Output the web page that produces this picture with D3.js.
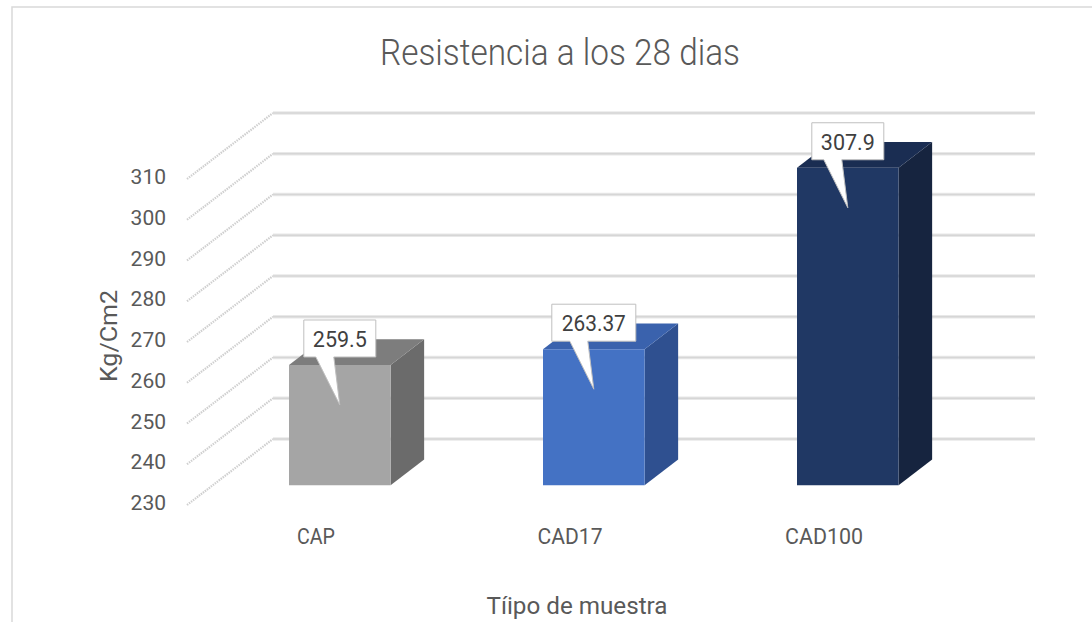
<!DOCTYPE html>
<html>
<head>
<meta charset="utf-8">
<script src="https://cdn.jsdelivr.net/npm/d3@7"></script>
<style>
  html, body { margin: 0; padding: 0; background: #ffffff; }
  svg { display: block; }
</style>
</head>
<body>
<svg id="chart" width="1092" height="622"></svg>
<script>
// ---- data ----
const categories = ["CAP", "CAD17", "CAD100"];
const values = [259.5, 263.37, 307.9];
const valueLabels = ["259.5", "263.37", "307.9"];
const yTicks = [230, 240, 250, 260, 270, 280, 290, 300, 310];
const title = "Resistencia a los 28 dias";
const xTitle = "Tíipo de muestra";
const yTitle = "Kg/Cm2";

// ---- styles ----
const frontColors = ["#a5a5a5", "#4472c4", "#203864"];
const sideColors  = ["#6b6b6b", "#2f5090", "#16243f"];
const topColors   = ["#7d7d7d", "#3a62ad", "#1a2d52"];
const textColor = "#595959";
const fontFam = "'Roboto', 'Liberation Sans', sans-serif";

const svg = d3.select("#chart");

// frame
svg.append("rect").attr("x", 12).attr("y", 7).attr("width", 1200).attr("height", 800)
  .attr("fill", "#ffffff").attr("stroke", "#d9d9d9").attr("stroke-width", 1.5);

// ---- geometry (pseudo 3D projection) ----
const X0 = 187;           // front-left of floor
const wallW = 762;        // width of back wall
const depth = [86, -66];  // full depth vector
const x = d3.scaleBand().domain(categories).range([0, wallW]).paddingInner(0.6).paddingOuter(0.3);
const y = d3.scaleLinear().domain([230, 310]).range([505, 179]);
const f1 = 0.3, f2 = 0.69; // bar depth span (0 = front, 1 = back)

function P(xx, v, f) { return [X0 + xx + f * depth[0], y(v) + f * depth[1]]; }
const poly = pts => pts.map(p => p.join(",")).join(" ");

// left wall diagonal grid lines
svg.append("g").selectAll("line").data(yTicks).join("line")
  .attr("x1", d => P(0, d, 0)[0]).attr("y1", d => P(0, d, 0)[1])
  .attr("x2", d => P(0, d, 1)[0]).attr("y2", d => P(0, d, 1)[1])
  .attr("stroke", "#cfcfcf").attr("stroke-width", 2.2).attr("stroke-dasharray", "1.5 1");

// back wall grid lines
const gb = svg.append("g");
gb.selectAll("line.o").data(yTicks).join("line").attr("class", "o")
  .attr("x1", d => P(0, d, 1)[0]).attr("y1", d => P(0, d, 1)[1])
  .attr("x2", d => P(wallW, d, 1)[0]).attr("y2", d => P(wallW, d, 1)[1])
  .attr("stroke", "#e8e8e8").attr("stroke-width", 3.5);
gb.selectAll("line.i").data(yTicks).join("line").attr("class", "i")
  .attr("x1", d => P(0, d, 1)[0]).attr("y1", d => P(0, d, 1)[1])
  .attr("x2", d => P(wallW, d, 1)[0]).attr("y2", d => P(wallW, d, 1)[1])
  .attr("stroke", "#d6d6d6").attr("stroke-width", 1.5);

// y tick labels
svg.append("g").selectAll("text").data(yTicks).join("text")
  .attr("x", 166).attr("y", d => y(d) - 2)
  .attr("text-anchor", "end").attr("dominant-baseline", "central")
  .attr("font-family", fontFam).attr("font-size", 21).attr("fill", textColor)
  .text(d => d);

// bars
const bars = svg.append("g").selectAll("g").data(categories).join("g");
bars.each(function(c, i) {
  const g = d3.select(this);
  const a = x(c), b = x(c) + x.bandwidth(), v = values[i];
  g.append("polygon").attr("points", poly([P(b, 230, f1), P(b, v, f1), P(b, v, f2), P(b, 230, f2)]))
    .attr("fill", sideColors[i]);
  g.append("polygon").attr("points", poly([P(a, v, f1), P(b, v, f1), P(b, v, f2), P(a, v, f2)]))
    .attr("fill", topColors[i]);
  g.append("polygon").attr("points", poly([P(a, 230, f1), P(a, v, f1), P(b, v, f1), P(b, 230, f1)]))
    .attr("fill", frontColors[i]);
});

// data label callouts
const callouts = svg.append("g").selectAll("g").data(categories).join("g");
callouts.each(function(c, i) {
  const g = d3.select(this);
  const [cx, topY] = P(x(c) + x.bandwidth() / 2, values[i], f1);
  const w = valueLabels[i].length > 5 ? 84 : 72, h = 37;
  const bx = cx - w / 2, by = topY - 45;
  const tip = [cx, topY + 40];
  const path = `M${bx},${by} H${bx + w} V${by + h} H${cx - 6} L${tip[0]},${tip[1]} L${cx - 24},${by + h} H${bx} Z`;
  g.append("path").attr("d", path).attr("fill", "#ffffff").attr("stroke", "#bfbfbf").attr("stroke-width", 1);
  g.append("text").attr("x", cx).attr("y", by + h / 2 + 1)
    .attr("text-anchor", "middle").attr("dominant-baseline", "central")
    .attr("font-family", fontFam).attr("font-size", 22).attr("fill", "#404040")
    .attr("textLength", valueLabels[i].length > 5 ? 64 : 54).attr("lengthAdjust", "spacingAndGlyphs")
    .text(valueLabels[i]);
});

// category labels
const catWidths = [38, 65, 78];
svg.append("g").selectAll("text").data(categories).join("text")
  .attr("x", d => P(x(d) + x.bandwidth() / 2, 230, 0)[0] + 2).attr("y", 536)
  .attr("text-anchor", "middle").attr("dominant-baseline", "central")
  .attr("font-family", fontFam).attr("font-size", 22).attr("fill", textColor)
  .attr("textLength", (d, i) => catWidths[i]).attr("lengthAdjust", "spacingAndGlyphs")
  .text(d => d);

// title
svg.append("text").attr("x", 560).attr("y", 52)
  .attr("text-anchor", "middle").attr("dominant-baseline", "central")
  .attr("font-family", fontFam).attr("font-weight", 300).attr("font-size", 37).attr("fill", textColor)
  .attr("textLength", 360).attr("lengthAdjust", "spacingAndGlyphs")
  .text(title);

// axis titles
svg.append("text").attr("x", 577).attr("y", 606)
  .attr("text-anchor", "middle").attr("dominant-baseline", "central")
  .attr("font-family", fontFam).attr("font-size", 24).attr("fill", textColor)
  .attr("textLength", 181).attr("lengthAdjust", "spacingAndGlyphs")
  .text(xTitle);
svg.append("text").attr("transform", "translate(109,336) rotate(-90)")
  .attr("text-anchor", "middle").attr("dominant-baseline", "central")
  .attr("font-family", fontFam).attr("font-size", 23).attr("fill", textColor)
  .attr("textLength", 92).attr("lengthAdjust", "spacingAndGlyphs")
  .text(yTitle);
</script>
</body>
</html>
